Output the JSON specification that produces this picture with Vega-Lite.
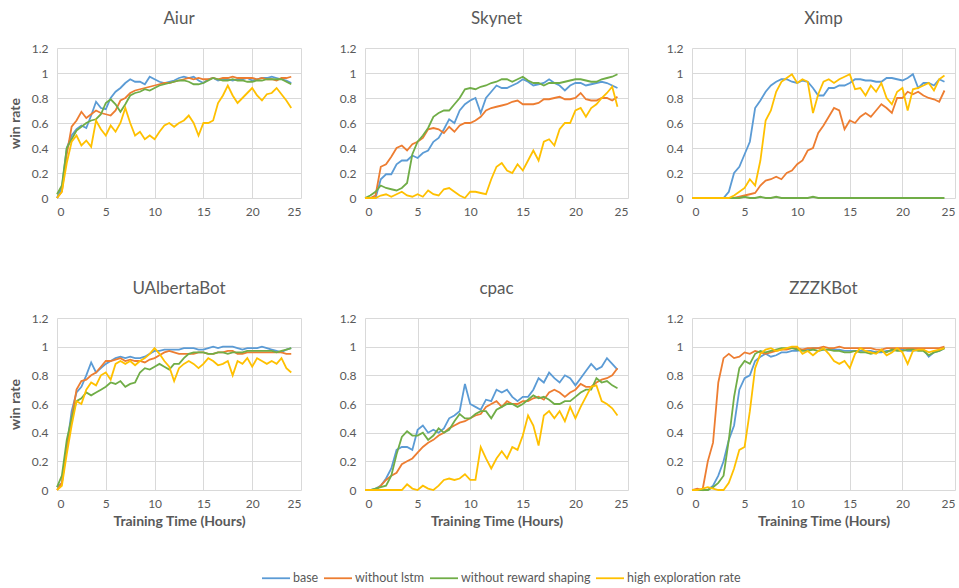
{
"$schema":"https://vega.github.io/schema/vega-lite/v6.json",
"background":"white",
"padding":{"left":8,"top":10,"right":4,"bottom":4},
"config":{
 "view":{"stroke":null},
 "font":"Lato",
 "axis":{"grid":true,"gridColor":"#d9d9d9","gridWidth":1,"domain":false,"ticks":false,"labelColor":"#595959","labelFont":"Lato","labelFontSize":12,"titleColor":"#595959","titleFont":"Lato","titleFontSize":14,"titleFontWeight":"bold"},
 "axisX":{"labelPadding":8,"titlePadding":5},
 "axisY":{"labelPadding":9,"titlePadding":9},
 "title":{"font":"Lato","fontSize":17,"fontWeight":"normal","color":"#595959","offset":14},
 "legend":{"orient":"none","direction":"horizontal","legendX":204,"legendY":515,"symbolType":"stroke","symbolSize":784,"symbolStrokeWidth":1.8,"labelFont":"Lato","labelFontSize":12.5,"labelColor":"#595959","labelOffset":2,"columnPadding":1,"title":null}
},
"datasets":{
"aiur":[
{"h":0,"a":0,"l":0,"r":0.03,"e":0},{"h":0.5,"a":0.08,"l":0.05,"r":0.1,"e":0.05},{"h":1,"a":0.4,"l":0.35,"r":0.4,"e":0.28},{"h":1.5,"a":0.5,"l":0.57,"r":0.47,"e":0.45},{"h":2,"a":0.55,"l":0.62,"r":0.54,"e":0.5},{"h":2.5,"a":0.58,"l":0.69,"r":0.57,"e":0.42},{"h":3,"a":0.56,"l":0.64,"r":0.6,"e":0.46},{"h":3.5,"a":0.66,"l":0.67,"r":0.62,"e":0.41},{"h":4,"a":0.77,"l":0.7,"r":0.63,"e":0.62},{"h":4.5,"a":0.72,"l":0.68,"r":0.67,"e":0.55},{"h":5,"a":0.71,"l":0.67,"r":0.76,"e":0.5},{"h":5.5,"a":0.8,"l":0.66,"r":0.79,"e":0.58},{"h":6,"a":0.85,"l":0.7,"r":0.75,"e":0.53},{"h":6.5,"a":0.88,"l":0.78,"r":0.69,"e":0.6},{"h":7,"a":0.92,"l":0.8,"r":0.75,"e":0.72},{"h":7.5,"a":0.95,"l":0.84,"r":0.82,"e":0.6},{"h":8,"a":0.93,"l":0.86,"r":0.84,"e":0.5},{"h":8.5,"a":0.93,"l":0.87,"r":0.85,"e":0.53},{"h":9,"a":0.91,"l":0.88,"r":0.87,"e":0.47},{"h":9.5,"a":0.97,"l":0.89,"r":0.86,"e":0.5},{"h":10,"a":0.95,"l":0.9,"r":0.88,"e":0.47},{"h":10.5,"a":0.93,"l":0.91,"r":0.9,"e":0.53},{"h":11,"a":0.92,"l":0.92,"r":0.91,"e":0.58},{"h":11.5,"a":0.93,"l":0.92,"r":0.92,"e":0.6},{"h":12,"a":0.94,"l":0.93,"r":0.93,"e":0.57},{"h":12.5,"a":0.96,"l":0.94,"r":0.94,"e":0.6},{"h":13,"a":0.97,"l":0.95,"r":0.94,"e":0.62},{"h":13.5,"a":0.96,"l":0.96,"r":0.93,"e":0.66},{"h":14,"a":0.97,"l":0.95,"r":0.91,"e":0.6},{"h":14.5,"a":0.94,"l":0.96,"r":0.91,"e":0.5},{"h":15,"a":0.92,"l":0.95,"r":0.92,"e":0.6},{"h":15.5,"a":0.95,"l":0.95,"r":0.94,"e":0.6},{"h":16,"a":0.96,"l":0.96,"r":0.96,"e":0.62},{"h":16.5,"a":0.94,"l":0.95,"r":0.95,"e":0.76},{"h":17,"a":0.95,"l":0.96,"r":0.94,"e":0.82},{"h":17.5,"a":0.95,"l":0.96,"r":0.94,"e":0.9},{"h":18,"a":0.94,"l":0.97,"r":0.95,"e":0.82},{"h":18.5,"a":0.95,"l":0.96,"r":0.94,"e":0.76},{"h":19,"a":0.95,"l":0.96,"r":0.94,"e":0.8},{"h":19.5,"a":0.96,"l":0.96,"r":0.93,"e":0.84},{"h":20,"a":0.94,"l":0.96,"r":0.93,"e":0.88},{"h":20.5,"a":0.95,"l":0.95,"r":0.94,"e":0.82},{"h":21,"a":0.96,"l":0.96,"r":0.94,"e":0.78},{"h":21.5,"a":0.96,"l":0.95,"r":0.95,"e":0.83},{"h":22,"a":0.97,"l":0.95,"r":0.95,"e":0.84},{"h":22.5,"a":0.96,"l":0.94,"r":0.95,"e":0.88},{"h":23,"a":0.95,"l":0.96,"r":0.95,"e":0.83},{"h":23.5,"a":0.94,"l":0.96,"r":0.93,"e":0.78},{"h":24,"a":0.92,"l":0.97,"r":0.91,"e":0.72}],
"skynet":[
{"h":0,"a":0,"l":0,"r":0,"e":0},{"h":0.5,"a":0,"l":0,"r":0.02,"e":0},{"h":1,"a":0,"l":0.02,"r":0.05,"e":0},{"h":1.5,"a":0.15,"l":0.25,"r":0.1,"e":0.02},{"h":2,"a":0.19,"l":0.27,"r":0.08,"e":0.03},{"h":2.5,"a":0.19,"l":0.33,"r":0.07,"e":0.01},{"h":3,"a":0.27,"l":0.4,"r":0.06,"e":0.03},{"h":3.5,"a":0.3,"l":0.42,"r":0.08,"e":0.05},{"h":4,"a":0.3,"l":0.38,"r":0.12,"e":0.02},{"h":4.5,"a":0.34,"l":0.43,"r":0.35,"e":0.01},{"h":5,"a":0.32,"l":0.45,"r":0.45,"e":0.03},{"h":5.5,"a":0.36,"l":0.48,"r":0.5,"e":0.01},{"h":6,"a":0.38,"l":0.55,"r":0.56,"e":0.06},{"h":6.5,"a":0.45,"l":0.56,"r":0.65,"e":0.03},{"h":7,"a":0.48,"l":0.55,"r":0.68,"e":0.02},{"h":7.5,"a":0.55,"l":0.52,"r":0.7,"e":0.07},{"h":8,"a":0.63,"l":0.57,"r":0.7,"e":0.08},{"h":8.5,"a":0.6,"l":0.53,"r":0.75,"e":0.05},{"h":9,"a":0.7,"l":0.58,"r":0.8,"e":0.02},{"h":9.5,"a":0.75,"l":0.6,"r":0.87,"e":0},{"h":10,"a":0.78,"l":0.6,"r":0.88,"e":0.05},{"h":10.5,"a":0.8,"l":0.62,"r":0.87,"e":0.05},{"h":11,"a":0.68,"l":0.65,"r":0.89,"e":0.04},{"h":11.5,"a":0.8,"l":0.7,"r":0.9,"e":0.03},{"h":12,"a":0.85,"l":0.72,"r":0.92,"e":0.15},{"h":12.5,"a":0.9,"l":0.73,"r":0.93,"e":0.25},{"h":13,"a":0.88,"l":0.74,"r":0.95,"e":0.28},{"h":13.5,"a":0.88,"l":0.75,"r":0.95,"e":0.22},{"h":14,"a":0.9,"l":0.77,"r":0.93,"e":0.2},{"h":14.5,"a":0.92,"l":0.78,"r":0.95,"e":0.27},{"h":15,"a":0.95,"l":0.75,"r":0.97,"e":0.22},{"h":15.5,"a":0.93,"l":0.75,"r":0.94,"e":0.3},{"h":16,"a":0.9,"l":0.75,"r":0.92,"e":0.38},{"h":16.5,"a":0.91,"l":0.76,"r":0.92,"e":0.3},{"h":17,"a":0.92,"l":0.79,"r":0.9,"e":0.45},{"h":17.5,"a":0.95,"l":0.79,"r":0.92,"e":0.47},{"h":18,"a":0.92,"l":0.8,"r":0.92,"e":0.42},{"h":18.5,"a":0.9,"l":0.81,"r":0.92,"e":0.55},{"h":19,"a":0.86,"l":0.79,"r":0.93,"e":0.6},{"h":19.5,"a":0.9,"l":0.79,"r":0.94,"e":0.6},{"h":20,"a":0.92,"l":0.8,"r":0.95,"e":0.7},{"h":20.5,"a":0.92,"l":0.84,"r":0.95,"e":0.72},{"h":21,"a":0.9,"l":0.79,"r":0.94,"e":0.65},{"h":21.5,"a":0.91,"l":0.78,"r":0.93,"e":0.72},{"h":22,"a":0.92,"l":0.78,"r":0.93,"e":0.75},{"h":22.5,"a":0.93,"l":0.8,"r":0.95,"e":0.8},{"h":23,"a":0.92,"l":0.8,"r":0.96,"e":0.84},{"h":23.5,"a":0.9,"l":0.78,"r":0.97,"e":0.89},{"h":24,"a":0.88,"l":0.81,"r":0.99,"e":0.73}],
"ximp":[
{"h":0,"a":0,"l":0,"r":0,"e":0},{"h":0.5,"a":0,"l":0,"r":0,"e":0},{"h":1,"a":0,"l":0,"r":0,"e":0},{"h":1.5,"a":0,"l":0,"r":0,"e":0},{"h":2,"a":0,"l":0,"r":0,"e":0},{"h":2.5,"a":0,"l":0,"r":0,"e":0},{"h":3,"a":0,"l":0,"r":0,"e":0},{"h":3.5,"a":0.05,"l":0,"r":0,"e":0},{"h":4,"a":0.2,"l":0,"r":0,"e":0.02},{"h":4.5,"a":0.25,"l":0.01,"r":0,"e":0.05},{"h":5,"a":0.35,"l":0.02,"r":0.01,"e":0.08},{"h":5.5,"a":0.45,"l":0.03,"r":0,"e":0.15},{"h":6,"a":0.72,"l":0.04,"r":0,"e":0.1},{"h":6.5,"a":0.78,"l":0.1,"r":0.01,"e":0.3},{"h":7,"a":0.85,"l":0.14,"r":0,"e":0.62},{"h":7.5,"a":0.9,"l":0.15,"r":0,"e":0.7},{"h":8,"a":0.93,"l":0.17,"r":0.01,"e":0.85},{"h":8.5,"a":0.95,"l":0.15,"r":0,"e":0.93},{"h":9,"a":0.95,"l":0.2,"r":0,"e":0.96},{"h":9.5,"a":0.93,"l":0.22,"r":0,"e":0.99},{"h":10,"a":0.92,"l":0.27,"r":0,"e":0.92},{"h":10.5,"a":0.94,"l":0.3,"r":0,"e":0.95},{"h":11,"a":0.93,"l":0.38,"r":0,"e":0.93},{"h":11.5,"a":0.88,"l":0.4,"r":0.01,"e":0.68},{"h":12,"a":0.82,"l":0.52,"r":0,"e":0.83},{"h":12.5,"a":0.82,"l":0.58,"r":0,"e":0.93},{"h":13,"a":0.88,"l":0.65,"r":0,"e":0.95},{"h":13.5,"a":0.88,"l":0.72,"r":0,"e":0.92},{"h":14,"a":0.9,"l":0.7,"r":0,"e":0.95},{"h":14.5,"a":0.9,"l":0.55,"r":0,"e":0.97},{"h":15,"a":0.92,"l":0.62,"r":0,"e":0.99},{"h":15.5,"a":0.95,"l":0.6,"r":0,"e":0.87},{"h":16,"a":0.95,"l":0.65,"r":0,"e":0.88},{"h":16.5,"a":0.94,"l":0.68,"r":0,"e":0.82},{"h":17,"a":0.94,"l":0.65,"r":0,"e":0.9},{"h":17.5,"a":0.93,"l":0.7,"r":0,"e":0.85},{"h":18,"a":0.93,"l":0.75,"r":0,"e":0.92},{"h":18.5,"a":0.96,"l":0.72,"r":0,"e":0.8},{"h":19,"a":0.96,"l":0.68,"r":0,"e":0.75},{"h":19.5,"a":0.95,"l":0.8,"r":0,"e":0.85},{"h":20,"a":0.94,"l":0.8,"r":0,"e":0.88},{"h":20.5,"a":0.96,"l":0.85,"r":0,"e":0.7},{"h":21,"a":0.99,"l":0.83,"r":0,"e":0.87},{"h":21.5,"a":0.88,"l":0.85,"r":0,"e":0.88},{"h":22,"a":0.92,"l":0.82,"r":0,"e":0.9},{"h":22.5,"a":0.92,"l":0.8,"r":0,"e":0.92},{"h":23,"a":0.9,"l":0.79,"r":0,"e":0.86},{"h":23.5,"a":0.95,"l":0.77,"r":0,"e":0.95},{"h":24,"a":0.93,"l":0.86,"r":0,"e":0.98}],
"ualberta":[
{"h":0,"a":0.02,"l":0,"r":0.02,"e":0},{"h":0.5,"a":0.05,"l":0.05,"r":0.1,"e":0.03},{"h":1,"a":0.3,"l":0.3,"r":0.35,"e":0.25},{"h":1.5,"a":0.55,"l":0.5,"r":0.5,"e":0.45},{"h":2,"a":0.68,"l":0.7,"r":0.62,"e":0.62},{"h":2.5,"a":0.72,"l":0.76,"r":0.64,"e":0.6},{"h":3,"a":0.8,"l":0.77,"r":0.68,"e":0.7},{"h":3.5,"a":0.89,"l":0.8,"r":0.66,"e":0.75},{"h":4,"a":0.82,"l":0.82,"r":0.68,"e":0.73},{"h":4.5,"a":0.85,"l":0.86,"r":0.7,"e":0.8},{"h":5,"a":0.88,"l":0.9,"r":0.72,"e":0.82},{"h":5.5,"a":0.9,"l":0.9,"r":0.75,"e":0.77},{"h":6,"a":0.92,"l":0.91,"r":0.74,"e":0.88},{"h":6.5,"a":0.93,"l":0.92,"r":0.76,"e":0.9},{"h":7,"a":0.92,"l":0.9,"r":0.72,"e":0.88},{"h":7.5,"a":0.93,"l":0.91,"r":0.74,"e":0.9},{"h":8,"a":0.92,"l":0.9,"r":0.75,"e":0.87},{"h":8.5,"a":0.92,"l":0.9,"r":0.82,"e":0.9},{"h":9,"a":0.93,"l":0.89,"r":0.85,"e":0.92},{"h":9.5,"a":0.95,"l":0.91,"r":0.84,"e":0.95},{"h":10,"a":0.97,"l":0.92,"r":0.86,"e":0.99},{"h":10.5,"a":0.97,"l":0.94,"r":0.88,"e":0.95},{"h":11,"a":0.98,"l":0.96,"r":0.86,"e":0.9},{"h":11.5,"a":0.98,"l":0.97,"r":0.84,"e":0.86},{"h":12,"a":0.98,"l":0.96,"r":0.88,"e":0.76},{"h":12.5,"a":0.98,"l":0.95,"r":0.88,"e":0.85},{"h":13,"a":0.99,"l":0.95,"r":0.92,"e":0.88},{"h":13.5,"a":0.99,"l":0.95,"r":0.95,"e":0.9},{"h":14,"a":0.99,"l":0.95,"r":0.96,"e":0.88},{"h":14.5,"a":0.98,"l":0.96,"r":0.96,"e":0.85},{"h":15,"a":0.98,"l":0.96,"r":0.96,"e":0.88},{"h":15.5,"a":0.99,"l":0.95,"r":0.95,"e":0.92},{"h":16,"a":1,"l":0.95,"r":0.95,"e":0.9},{"h":16.5,"a":0.99,"l":0.96,"r":0.96,"e":0.87},{"h":17,"a":1,"l":0.96,"r":0.96,"e":0.88},{"h":17.5,"a":1,"l":0.97,"r":0.95,"e":0.9},{"h":18,"a":1,"l":0.97,"r":0.96,"e":0.8},{"h":18.5,"a":0.99,"l":0.95,"r":0.96,"e":0.9},{"h":19,"a":0.98,"l":0.95,"r":0.96,"e":0.88},{"h":19.5,"a":0.99,"l":0.96,"r":0.97,"e":0.92},{"h":20,"a":0.99,"l":0.96,"r":0.97,"e":0.86},{"h":20.5,"a":0.99,"l":0.96,"r":0.97,"e":0.92},{"h":21,"a":1,"l":0.96,"r":0.97,"e":0.9},{"h":21.5,"a":0.99,"l":0.96,"r":0.97,"e":0.88},{"h":22,"a":0.98,"l":0.96,"r":0.97,"e":0.9},{"h":22.5,"a":0.97,"l":0.96,"r":0.96,"e":0.88},{"h":23,"a":0.96,"l":0.96,"r":0.97,"e":0.92},{"h":23.5,"a":0.98,"l":0.95,"r":0.98,"e":0.85},{"h":24,"a":0.99,"l":0.95,"r":0.99,"e":0.82}],
"cpac":[
{"h":0,"a":0,"l":0,"r":0,"e":0},{"h":0.5,"a":0,"l":0,"r":0,"e":0},{"h":1,"a":0.01,"l":0,"r":0.01,"e":0},{"h":1.5,"a":0.03,"l":0.03,"r":0.02,"e":0},{"h":2,"a":0.08,"l":0.07,"r":0.03,"e":0},{"h":2.5,"a":0.15,"l":0.1,"r":0.1,"e":0},{"h":3,"a":0.28,"l":0.12,"r":0.25,"e":0},{"h":3.5,"a":0.3,"l":0.18,"r":0.37,"e":0},{"h":4,"a":0.3,"l":0.2,"r":0.41,"e":0.04},{"h":4.5,"a":0.28,"l":0.22,"r":0.38,"e":0.01},{"h":5,"a":0.42,"l":0.26,"r":0.38,"e":0},{"h":5.5,"a":0.45,"l":0.3,"r":0.4,"e":0.03},{"h":6,"a":0.4,"l":0.33,"r":0.35,"e":0.01},{"h":6.5,"a":0.42,"l":0.35,"r":0.38,"e":0},{"h":7,"a":0.4,"l":0.38,"r":0.43,"e":0.03},{"h":7.5,"a":0.43,"l":0.4,"r":0.4,"e":0.07},{"h":8,"a":0.5,"l":0.43,"r":0.42,"e":0.08},{"h":8.5,"a":0.52,"l":0.45,"r":0.48,"e":0.07},{"h":9,"a":0.55,"l":0.47,"r":0.53,"e":0.08},{"h":9.5,"a":0.74,"l":0.48,"r":0.5,"e":0.11},{"h":10,"a":0.6,"l":0.5,"r":0.5,"e":0.07},{"h":10.5,"a":0.58,"l":0.52,"r":0.53,"e":0.07},{"h":11,"a":0.56,"l":0.53,"r":0.55,"e":0.3},{"h":11.5,"a":0.63,"l":0.58,"r":0.55,"e":0.22},{"h":12,"a":0.62,"l":0.6,"r":0.5,"e":0.15},{"h":12.5,"a":0.7,"l":0.62,"r":0.56,"e":0.22},{"h":13,"a":0.68,"l":0.58,"r":0.58,"e":0.27},{"h":13.5,"a":0.7,"l":0.62,"r":0.6,"e":0.22},{"h":14,"a":0.65,"l":0.6,"r":0.6,"e":0.3},{"h":14.5,"a":0.62,"l":0.6,"r":0.58,"e":0.28},{"h":15,"a":0.65,"l":0.62,"r":0.6,"e":0.38},{"h":15.5,"a":0.65,"l":0.62,"r":0.63,"e":0.52},{"h":16,"a":0.7,"l":0.64,"r":0.66,"e":0.45},{"h":16.5,"a":0.78,"l":0.65,"r":0.64,"e":0.31},{"h":17,"a":0.75,"l":0.63,"r":0.65,"e":0.52},{"h":17.5,"a":0.82,"l":0.68,"r":0.63,"e":0.55},{"h":18,"a":0.78,"l":0.7,"r":0.6,"e":0.5},{"h":18.5,"a":0.75,"l":0.68,"r":0.6,"e":0.55},{"h":19,"a":0.8,"l":0.65,"r":0.62,"e":0.48},{"h":19.5,"a":0.78,"l":0.68,"r":0.62,"e":0.58},{"h":20,"a":0.73,"l":0.7,"r":0.65,"e":0.5},{"h":20.5,"a":0.78,"l":0.74,"r":0.68,"e":0.58},{"h":21,"a":0.83,"l":0.72,"r":0.7,"e":0.65},{"h":21.5,"a":0.88,"l":0.72,"r":0.7,"e":0.72},{"h":22,"a":0.84,"l":0.75,"r":0.78,"e":0.73},{"h":22.5,"a":0.86,"l":0.77,"r":0.75,"e":0.62},{"h":23,"a":0.92,"l":0.78,"r":0.76,"e":0.6},{"h":23.5,"a":0.88,"l":0.8,"r":0.73,"e":0.57},{"h":24,"a":0.84,"l":0.85,"r":0.71,"e":0.52}],
"zzzk":[
{"h":0,"a":0,"l":0,"r":0,"e":0},{"h":0.5,"a":0,"l":0.01,"r":0,"e":0},{"h":1,"a":0,"l":0,"r":0,"e":0.01},{"h":1.5,"a":0,"l":0.2,"r":0,"e":0.02},{"h":2,"a":0.03,"l":0.33,"r":0.02,"e":0.01},{"h":2.5,"a":0.1,"l":0.75,"r":0.05,"e":0},{"h":3,"a":0.2,"l":0.92,"r":0.1,"e":0},{"h":3.5,"a":0.35,"l":0.95,"r":0.35,"e":0.05},{"h":4,"a":0.45,"l":0.92,"r":0.65,"e":0.15},{"h":4.5,"a":0.7,"l":0.93,"r":0.85,"e":0.28},{"h":5,"a":0.78,"l":0.96,"r":0.9,"e":0.3},{"h":5.5,"a":0.8,"l":0.95,"r":0.88,"e":0.55},{"h":6,"a":0.9,"l":0.97,"r":0.95,"e":0.85},{"h":6.5,"a":0.93,"l":0.96,"r":0.97,"e":0.95},{"h":7,"a":0.95,"l":0.95,"r":0.96,"e":0.98},{"h":7.5,"a":0.93,"l":0.96,"r":0.97,"e":0.99},{"h":8,"a":0.94,"l":0.97,"r":0.98,"e":0.97},{"h":8.5,"a":0.96,"l":0.98,"r":0.99,"e":0.98},{"h":9,"a":0.96,"l":0.98,"r":0.99,"e":0.99},{"h":9.5,"a":0.97,"l":0.99,"r":0.99,"e":1},{"h":10,"a":0.97,"l":0.99,"r":0.98,"e":1},{"h":10.5,"a":0.98,"l":0.98,"r":0.97,"e":0.95},{"h":11,"a":0.98,"l":0.99,"r":0.97,"e":0.97},{"h":11.5,"a":0.99,"l":0.99,"r":0.98,"e":0.94},{"h":12,"a":0.99,"l":0.99,"r":0.97,"e":0.97},{"h":12.5,"a":0.98,"l":1,"r":0.98,"e":0.99},{"h":13,"a":0.98,"l":0.99,"r":0.98,"e":0.95},{"h":13.5,"a":0.98,"l":0.99,"r":0.97,"e":0.9},{"h":14,"a":0.98,"l":1,"r":0.97,"e":0.88},{"h":14.5,"a":0.97,"l":0.99,"r":0.96,"e":0.9},{"h":15,"a":0.97,"l":0.99,"r":0.96,"e":0.85},{"h":15.5,"a":0.97,"l":0.99,"r":0.97,"e":0.95},{"h":16,"a":0.97,"l":0.99,"r":0.96,"e":0.99},{"h":16.5,"a":0.97,"l":0.99,"r":0.96,"e":0.97},{"h":17,"a":0.97,"l":0.99,"r":0.95,"e":0.96},{"h":17.5,"a":0.96,"l":0.98,"r":0.96,"e":0.95},{"h":18,"a":0.96,"l":0.98,"r":0.97,"e":0.98},{"h":18.5,"a":0.97,"l":0.99,"r":0.96,"e":0.94},{"h":19,"a":0.97,"l":0.99,"r":0.98,"e":0.96},{"h":19.5,"a":0.98,"l":0.99,"r":0.97,"e":0.99},{"h":20,"a":0.98,"l":0.99,"r":0.97,"e":0.96},{"h":20.5,"a":0.97,"l":0.99,"r":0.98,"e":0.88},{"h":21,"a":0.97,"l":0.99,"r":0.98,"e":0.97},{"h":21.5,"a":0.98,"l":0.99,"r":0.97,"e":0.98},{"h":22,"a":0.98,"l":0.99,"r":0.97,"e":0.98},{"h":22.5,"a":0.93,"l":0.99,"r":0.94,"e":0.96},{"h":23,"a":0.96,"l":0.99,"r":0.96,"e":0.97},{"h":23.5,"a":0.97,"l":0.99,"r":0.97,"e":0.98},{"h":24,"a":0.99,"l":1,"r":0.99,"e":0.99}]
},
"columns":3,
"bounds":"flush",
"spacing":{"row":120,"column":64},
"concat":[
{"title":"Aiur","width":244,"height":150,"data":{"name":"aiur"},"transform":[{"fold":["a","l","r","e"],"as":["series","rate"]}],"mark":{"type":"line","strokeWidth":1.8},
 "encoding":{"x":{"field":"h","type":"quantitative","scale":{"domain":[0,25]},"axis":{"values":[0,5,10,15,20,25],"title":null}},
 "y":{"field":"rate","type":"quantitative","scale":{"domain":[0,1.2]},"axis":{"values":[0,0.2,0.4,0.6,0.8,1,1.2],"format":"~g","title":"win rate"}},
 "color":{"field":"series","type":"nominal","sort":null,"scale":{"domain":["a","l","r","e"],"range":["#5B9BD5","#ED7D31","#70AD47","#FFC000"]},"legend":{"labelExpr":"datum.label == 'a' ? 'base' : datum.label == 'l' ? 'without lstm' : datum.label == 'r' ? 'without reward shaping' : 'high exploration rate'"}}}},
{"title":"Skynet","width":263,"height":150,"data":{"name":"skynet"},"transform":[{"fold":["a","l","r","e"],"as":["series","rate"]}],"mark":{"type":"line","strokeWidth":1.8},
 "encoding":{"x":{"field":"h","type":"quantitative","scale":{"domain":[0,25]},"axis":{"values":[0,5,10,15,20,25],"title":null}},
 "y":{"field":"rate","type":"quantitative","scale":{"domain":[0,1.2]},"axis":{"values":[0,0.2,0.4,0.6,0.8,1,1.2],"format":"~g","title":null}},
 "color":{"field":"series","type":"nominal","sort":null,"scale":{"domain":["a","l","r","e"],"range":["#5B9BD5","#ED7D31","#70AD47","#FFC000"]}}}},
{"title":"Ximp","width":263,"height":150,"data":{"name":"ximp"},"transform":[{"fold":["a","l","r","e"],"as":["series","rate"]}],"mark":{"type":"line","strokeWidth":1.8},
 "encoding":{"x":{"field":"h","type":"quantitative","scale":{"domain":[0,25]},"axis":{"values":[0,5,10,15,20,25],"title":null}},
 "y":{"field":"rate","type":"quantitative","scale":{"domain":[0,1.2]},"axis":{"values":[0,0.2,0.4,0.6,0.8,1,1.2],"format":"~g","title":null}},
 "color":{"field":"series","type":"nominal","sort":null,"scale":{"domain":["a","l","r","e"],"range":["#5B9BD5","#ED7D31","#70AD47","#FFC000"]}}}},
{"title":"UAlbertaBot","width":244,"height":172,"data":{"name":"ualberta"},"transform":[{"fold":["a","l","r","e"],"as":["series","rate"]}],"mark":{"type":"line","strokeWidth":1.8},
 "encoding":{"x":{"field":"h","type":"quantitative","scale":{"domain":[0,25]},"axis":{"values":[0,5,10,15,20,25],"title":"Training Time (Hours)"}},
 "y":{"field":"rate","type":"quantitative","scale":{"domain":[0,1.2]},"axis":{"values":[0,0.2,0.4,0.6,0.8,1,1.2],"format":"~g","title":"win rate"}},
 "color":{"field":"series","type":"nominal","sort":null,"scale":{"domain":["a","l","r","e"],"range":["#5B9BD5","#ED7D31","#70AD47","#FFC000"]}}}},
{"title":"cpac","width":263,"height":172,"data":{"name":"cpac"},"transform":[{"fold":["a","l","r","e"],"as":["series","rate"]}],"mark":{"type":"line","strokeWidth":1.8},
 "encoding":{"x":{"field":"h","type":"quantitative","scale":{"domain":[0,25]},"axis":{"values":[0,5,10,15,20,25],"title":"Training Time (Hours)"}},
 "y":{"field":"rate","type":"quantitative","scale":{"domain":[0,1.2]},"axis":{"values":[0,0.2,0.4,0.6,0.8,1,1.2],"format":"~g","title":null}},
 "color":{"field":"series","type":"nominal","sort":null,"scale":{"domain":["a","l","r","e"],"range":["#5B9BD5","#ED7D31","#70AD47","#FFC000"]}}}},
{"title":"ZZZKBot","width":263,"height":172,"data":{"name":"zzzk"},"transform":[{"fold":["a","l","r","e"],"as":["series","rate"]}],"mark":{"type":"line","strokeWidth":1.8},
 "encoding":{"x":{"field":"h","type":"quantitative","scale":{"domain":[0,25]},"axis":{"values":[0,5,10,15,20,25],"title":"Training Time (Hours)"}},
 "y":{"field":"rate","type":"quantitative","scale":{"domain":[0,1.2]},"axis":{"values":[0,0.2,0.4,0.6,0.8,1,1.2],"format":"~g","title":null}},
 "color":{"field":"series","type":"nominal","sort":null,"scale":{"domain":["a","l","r","e"],"range":["#5B9BD5","#ED7D31","#70AD47","#FFC000"]}}}}
]
}
